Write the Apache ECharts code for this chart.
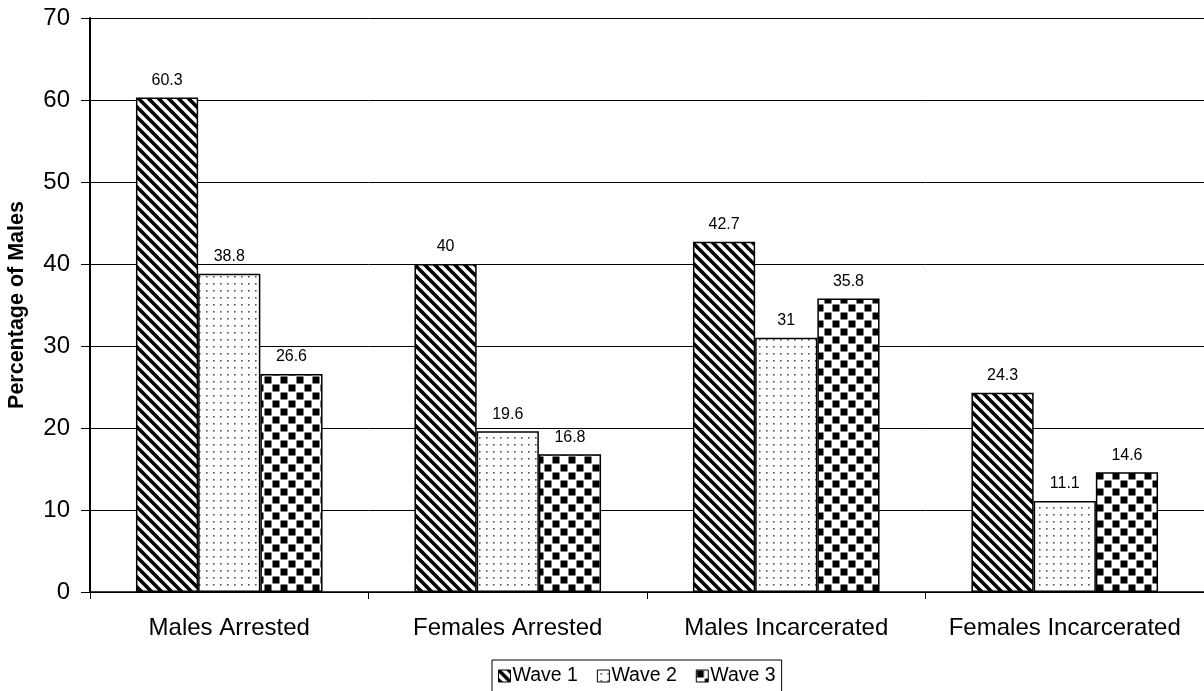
<!DOCTYPE html>
<html><head><meta charset="utf-8">
<script src="https://cdn.jsdelivr.net/npm/echarts@6/dist/echarts.min.js"></script>
<style>html,body{margin:0;padding:0;background:#fff}#c{width:1204px;height:691px}</style>
</head><body><div id="c"></div>
<script>
const categories = ['Males Arrested', 'Females Arrested', 'Males Incarcerated', 'Females Incarcerated'];
const wave1 = [60.3, 40, 42.7, 24.3];
const wave2 = [38.8, 19.6, 31, 11.1];
const wave3 = [26.6, 16.8, 35.8, 14.6];
const seriesNames = ['Wave 1', 'Wave 2', 'Wave 3'];

function stripes() {
  const c = document.createElement('canvas'); c.width = 10; c.height = 10;
  const g = c.getContext('2d'); g.fillStyle = '#fff'; g.fillRect(0,0,10,10);
  g.strokeStyle = '#000'; g.lineWidth = 3.6;
  for (let k = -10; k <= 10; k += 10) { g.beginPath(); g.moveTo(k-2, -2); g.lineTo(k+12, 12); g.stroke(); }
  return c;
}
function dots() {
  const c = document.createElement('canvas'); c.width = 7; c.height = 7;
  const g = c.getContext('2d'); g.fillStyle = '#fff'; g.fillRect(0,0,7,7);
  g.fillStyle = '#555'; g.fillRect(3,3,1.6,1.6);
  return c;
}
function checker() {
  const c = document.createElement('canvas'); c.width = 16; c.height = 16;
  const g = c.getContext('2d'); g.fillStyle = '#fff'; g.fillRect(0,0,16,16);
  g.fillStyle = '#000'; g.fillRect(0.5,0.5,7,7); g.fillRect(8.5,8.5,7,7);
  return c;
}
const pats = [stripes(), dots(), checker()];
const vals = [wave1, wave2, wave3];
const font = '"Liberation Sans", Arial, sans-serif';

const chart = echarts.init(document.getElementById('c'));
chart.setOption({
  animation: false,
  grid: { left: 90, right: 0, top: 18, bottom: 99, containLabel: false, outerBoundsMode: 'none' },
  legend: {
    top: 660, left: 492, itemWidth: 12, itemHeight: 12, itemGap: 19,
    borderColor: '#000', borderWidth: 1, padding: [6, 6, 6, 6],
    textStyle: { fontFamily: font, fontSize: 19.5, color: '#000', padding: [0,0,0,-3] },
    data: seriesNames.map((n, i) => ({ name: n, icon: 'rect', itemStyle: { color: { image: pats[i], repeat: 'repeat' }, borderColor: '#000', borderWidth: 1 } }))
  },
  xAxis: {
    type: 'category', data: categories,
    axisLine: { lineStyle: { color: '#000', width: 1.5 } },
    axisTick: { show: true, interval: 0, length: 7, lineStyle: { color: '#000' } },
    axisLabel: { interval: 0, fontFamily: font, fontSize: 24, color: '#000', margin: 24 }
  },
  yAxis: {
    type: 'value', min: 0, max: 70, interval: 10,
    name: 'Percentage of Males', nameLocation: 'middle', nameGap: 62, nameRotate: 90,
    nameTextStyle: { fontFamily: font, fontSize: 21.5, fontWeight: 'bold', color: '#000' },
    axisLine: { show: true, lineStyle: { color: '#000', width: 2 } },
    axisTick: { show: true, length: 9, lineStyle: { color: '#000' } },
    axisLabel: { fontFamily: font, fontSize: 24, color: '#000', margin: 20 },
    splitLine: { lineStyle: { color: '#000', width: 1 } }
  },
  series: seriesNames.map((n, i) => ({
    name: n, type: 'bar', data: vals[i],
    barGap: '0%', barCategoryGap: '33%',
    itemStyle: { color: { image: pats[i], repeat: 'repeat' }, borderColor: '#000', borderWidth: 1.5 },
    label: { show: true, position: 'top', distance: 9, fontFamily: font, fontSize: 16, color: '#000' }
  }))
});
</script></body></html>
